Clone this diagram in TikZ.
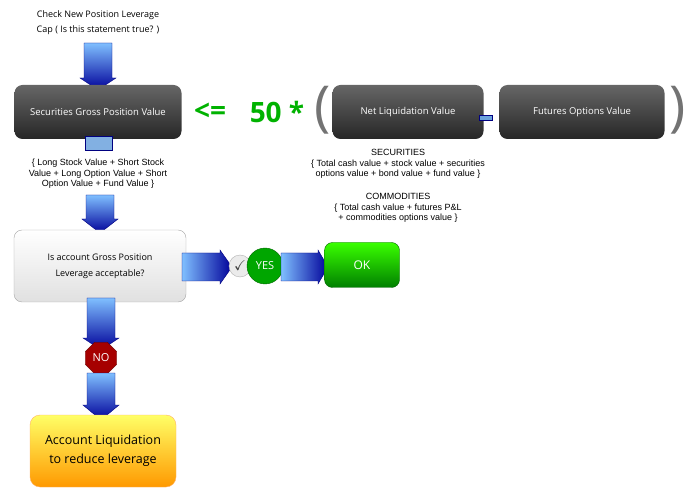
\documentclass[tikz,border=0pt]{standalone}
\usepackage{amssymb}
\usepackage{fontspec}
\setmainfont{Open Sans}
\newfontfamily\arl{Liberation Sans}
\usetikzlibrary{shapes.geometric}
\newcommand\myvarrow[4]{% cx, ytop, yhead, ytip
  \path[varr] (#1-14,#2) -- (#1+14,#2) -- (#1+14,#3) -- (#1+18,#3) -- (#1,#4) -- (#1-18,#3) -- (#1-14,#3) -- cycle;}
\newcommand\myharrow[4]{% cy, xleft, xhead, xtip
  \path[harr] (#2,#1-14) -- (#3,#1-14) -- (#3,#1-17) -- (#4,#1) -- (#3,#1+17) -- (#3,#1+14) -- (#2,#1+14) -- cycle;}
\begin{document}
\begin{tikzpicture}[x=1pt,y=-1pt,
  dark/.style={rounded corners=8pt,top color=black!60,bottom color=black!85,draw=none,text=white,font=\fontsize{9.5}{11}\selectfont,align=center},
  varr/.style={draw=blue!50!black,top color=cyan!50!blue!50,bottom color=blue!60!black},
  harr/.style={draw=blue!50!black,left color=cyan!50!blue!50,right color=blue!60!black},
  note/.style={font=\arl\fontsize{9}{10.5}\selectfont,align=center},
  big/.style={font=\bfseries\fontsize{28}{30}\selectfont,text=green!70!black}]
\useasboundingbox (0,0) rectangle (698,502);
\node[font=\fontsize{9}{15}\selectfont,align=center] (title) at (98,23) {Check New Position Leverage\\Cap ( Is this statement true? )};
\myvarrow{98}{43}{78}{90}
\node[dark,minimum width=167pt,minimum height=54pt] (sgpv) at (98,112) {Securities Gross Position Value};
\node[draw=blue!50!black,fill=cyan!60!blue!50,minimum width=27pt,minimum height=14pt,inner sep=0] (dash1) at (99,143) {};
\node[note] (sgtxt) at (98,174) {\{ Long Stock Value + Short Stock\\Value + Long Option Value + Short\\Option Value + Fund Value \}};
\myvarrow{100}{195}{219}{233}
\node[rounded corners=8pt,draw=black!35,top color=white,bottom color=black!12,minimum width=172pt,minimum height=72pt,font=\fontsize{9}{16}\selectfont,align=center] (dec) at (100,266) {Is account Gross Position\\Leverage acceptable?};
\myharrow{267}{182}{220}{232}
\node[circle,draw=black!30,fill=black!8,minimum size=22pt,inner sep=0,font=\Large,text=black!75] (chk) at (240,266) {$\checkmark$};
\node[circle,fill=green!65!black,draw=green!40!black,minimum size=36pt,inner sep=0,text=white,font=\fontsize{11}{12}\selectfont] (yes) at (265,266) {YES};
\myharrow{267}{281}{318}{328}
\node[rounded corners=8pt,top color=green!70!lime,bottom color=green!50!black,draw=green!40!black,minimum width=75pt,minimum height=45pt,text=white,font=\fontsize{12}{14}\selectfont] (ok) at (362,265) {OK};
\myvarrow{101}{298}{338}{350}
\node[regular polygon,regular polygon sides=8,minimum size=34pt,inner sep=0,fill=red!65!black,draw=red!40!black,text=white,font=\fontsize{11}{12}\selectfont] (no) at (101,358) {NO};
\myvarrow{101}{373}{405}{420}
\node[rounded corners=10pt,top color=yellow!60,bottom color=orange!80!yellow,draw=orange!60,minimum width=146pt,minimum height=72pt,font=\fontsize{12.5}{19}\selectfont,align=center] (liq) at (103,451) {Account Liquidation\\to reduce leverage};
\node[big] (le) at (210,112) {<=};
\node[big] (fifty) at (277,112) {50 *};
\node[font=\fontsize{55}{55}\selectfont,text=black!55] (lp) at (323,110) {(};
\node[dark,minimum width=151pt,minimum height=54pt] (nlv) at (408,112) {Net Liquidation Value};
\node[fill=cyan!60!blue!60,draw=blue!50!black,minimum width=13pt,minimum height=5pt,inner sep=0] (minus) at (486,118) {};
\node[dark,minimum width=165pt,minimum height=54pt] (fov) at (582,112) {Futures Options Value};
\node[font=\fontsize{55}{55}\selectfont,text=black!55] (rp) at (678,110) {)};
\node[note] (sec) at (398,164) {SECURITIES\\\{ Total cash value + stock value + securities\\options value + bond value + fund value \}};
\node[note] (com) at (398,208) {COMMODITIES\\\{ Total cash value + futures P\&L\\+ commodities options value \}};
\end{tikzpicture}
\end{document}
